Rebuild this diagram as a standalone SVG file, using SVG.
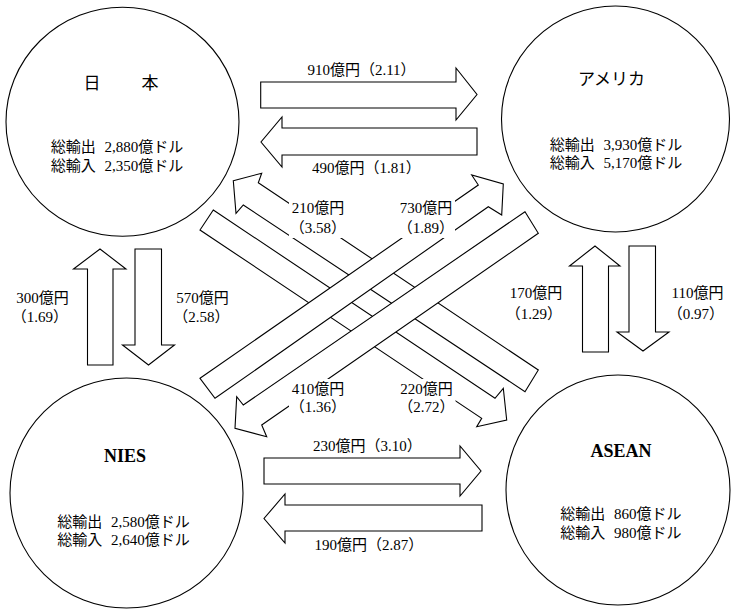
<svg xmlns="http://www.w3.org/2000/svg" width="733" height="609" viewBox="0 0 733 609">
<style>
.node{fill:#fff;stroke:#000;stroke-width:1.1}
.arr{fill:#fff;stroke:#000;stroke-width:1.1;stroke-linejoin:miter}
.t{font-family:"Liberation Serif","Noto Sans CJK JP",serif;font-size:15px;fill:#000;text-anchor:middle}
.stat{word-spacing:5px}
.title{font-family:"Liberation Serif","Noto Sans CJK JP",serif;font-size:17px;fill:#000;text-anchor:middle}
.en{font-family:"Liberation Serif",serif;font-size:18px;font-weight:bold;fill:#000;text-anchor:middle}
.bg{fill:#fff;stroke:none}
</style>
<rect width="733" height="609" fill="#fff"/>
<g id="japan">
<ellipse class="node" cx="122.5" cy="121.7" rx="116.5" ry="114.5"/>
<text class="title" x="92 121 150" y="89">日　本</text>
<text class="t stat" x="117" y="152">総輸出 2,880億ドル</text>
<text class="t stat" x="117" y="171">総輸入 2,350億ドル</text>
</g>
<g id="america">
<ellipse class="node" cx="615.5" cy="119" rx="114" ry="113"/>
<text class="title" x="611.5" y="85">アメリカ</text>
<text class="t stat" x="616" y="150">総輸出 3,930億ドル</text>
<text class="t stat" x="616" y="168">総輸入 5,170億ドル</text>
</g>
<g id="nies">
<ellipse class="node" cx="126.5" cy="493" rx="116.5" ry="115"/>
<text class="en" x="125" y="462">NIES</text>
<text class="t stat" x="123.5" y="527">総輸出 2,580億ドル</text>
<text class="t stat" x="123.5" y="545">総輸入 2,640億ドル</text>
</g>
<g id="asean">
<ellipse class="node" cx="618" cy="490" rx="112" ry="115"/>
<text class="en" x="621" y="457">ASEAN</text>
<text class="t stat" x="621" y="519">総輸出 860億ドル</text>
<text class="t stat" x="621" y="538">総輸入 980億ドル</text>
</g>
<g id="connectors">
<polygon class="arr" points="260.7,82 456,82 456,68 477,94.5 456,120 456,108 260.7,108"/>
<polygon class="arr" points="477,128 282,128 282,117 261,142 282,167 282,155 477,155"/>
<polygon class="arr" points="264,458 460,458 460,446 481,471 460,496 460,484 264,484"/>
<polygon class="arr" points="482,505 285,505 285,494 264,518.5 285,543 285,531 482,531"/>
<polygon class="arr" points="87.5,365 87.5,269 73.5,269 100,249 126,269 113,269 113,365"/>
<polygon class="arr" points="135,249 161.5,249 161.5,345 174.5,345 148.5,365 122.5,345 135,345"/>
<polygon class="arr" points="582.5,352 582.5,266 569.5,266 595,246 620,266 608.5,266 608.5,352"/>
<polygon class="arr" points="629,246 655.5,246 655.5,332 669,332 643,351 617,332 629,332"/>
<polygon class="arr" points="233.3,180.7 261.7,173.3 258.3,182.7 538.3,370 525,391.7 243.3,205 236,213.3"/>
<polygon class="arr" points="213.3,210 495,398.3 503.3,388.3 506.7,420 476.7,426.7 481.7,418.3 200,230"/>
<polygon class="arr" points="200,378.3 478.3,185 471.7,175 503.3,184 501.7,215 488.3,206.7 215,398.3"/>
<polygon class="arr" points="525,211.7 243.3,405 236.7,396.7 235,428.3 266.7,436.7 261.7,425 538.3,233.3"/>
<rect class="bg" x="289" y="199" width="58" height="39"/>
<rect class="bg" x="397" y="199" width="58" height="39"/>
<rect class="bg" x="289" y="379" width="58" height="38"/>
<rect class="bg" x="397.5" y="379" width="58" height="38"/>
<text class="t" x="361.5" y="75">910億円（2.11）</text>
<text class="t" x="366.5" y="173">490億円（1.81）</text>
<text class="t" x="367.5" y="451">230億円（3.10）</text>
<text class="t" x="369" y="550">190億円（2.87）</text>
<text class="t" x="42.5" y="303">300億円</text>
<text class="t" x="40" y="322">（1.69）</text>
<text class="t" x="202.5" y="303">570億円</text>
<text class="t" x="201.5" y="322">（2.58）</text>
<text class="t" x="536" y="298">170億円</text>
<text class="t" x="534" y="319">（1.29）</text>
<text class="t" x="697.5" y="298">110億円</text>
<text class="t" x="696" y="319">（0.97）</text>
<text class="t" x="318" y="213">210億円</text>
<text class="t" x="318" y="233">（3.58）</text>
<text class="t" x="426" y="213">730億円</text>
<text class="t" x="426" y="233">（1.89）</text>
<text class="t" x="318" y="393.5">410億円</text>
<text class="t" x="318" y="412">（1.36）</text>
<text class="t" x="426.5" y="393.5">220億円</text>
<text class="t" x="426.5" y="412">（2.72）</text>
</g>
</svg>
